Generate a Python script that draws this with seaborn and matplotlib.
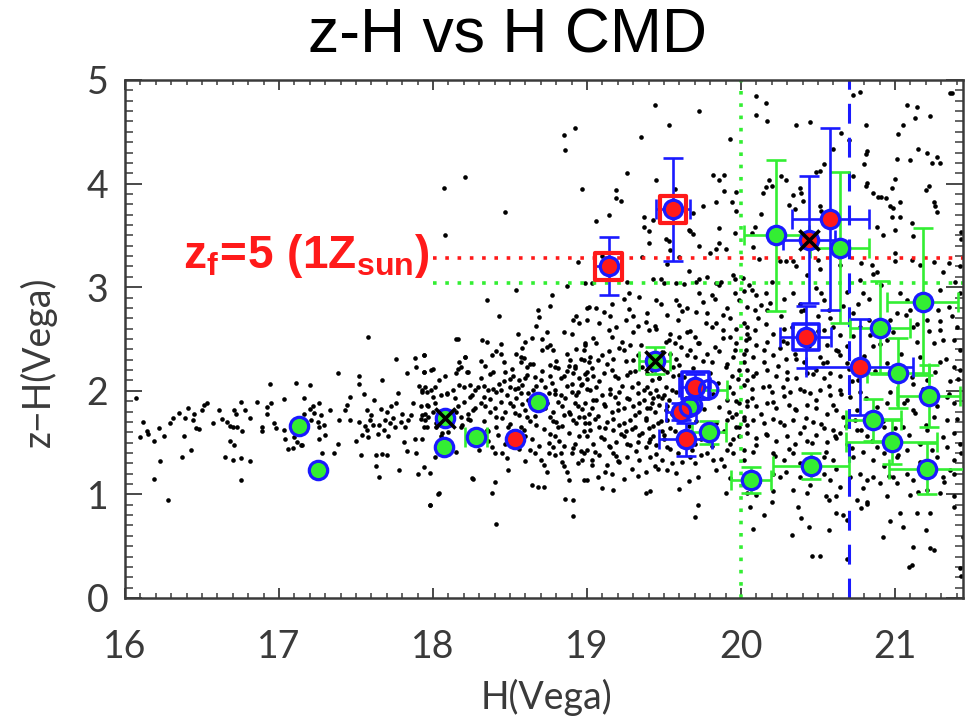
import matplotlib
matplotlib.use("Agg")
import matplotlib.pyplot as plt
from matplotlib.ticker import MultipleLocator
import numpy as np
import pandas as pd
import seaborn as sns

# ---------------- data ----------------
title = "z-H vs H CMD"
x_label = "H(Vega)"
y_label = "z\u2212H(Vega)"
x_ticks = [16, 17, 18, 19, 20, 21]
y_ticks = [0, 1, 2, 3, 4, 5]

# field galaxies (H, z-H) pairs
field_a = [16.07,1.93, 16.12,1.70, 16.14,1.61, 16.10,1.55, 16.15,1.58, 16.19,1.52, 16.19,1.15, 16.22,1.64, 16.23,1.32, 16.25,1.56,
           16.28,0.95, 16.29,1.69, 16.31,1.74, 16.35,1.79, 16.37,1.36, 16.38,1.56, 16.39,1.74, 16.41,1.83, 16.43,1.43, 16.44,1.72,
           16.45,1.78, 16.46,1.64, 16.48,1.63, 16.50,1.81, 16.51,1.86, 16.53,1.88, 16.57,1.69, 16.61,1.81, 16.63,1.73, 16.65,1.36,
           16.66,1.70, 16.68,1.52, 16.68,1.66, 16.70,1.33, 16.70,1.65, 16.71,1.81, 16.71,1.48, 16.72,1.78, 16.73,1.65, 16.75,1.89,
           16.75,1.35, 16.75,1.14, 16.76,1.61, 16.78,1.81, 16.81,1.74, 16.81,1.32, 16.86,1.89, 16.89,1.65, 16.89,1.61, 16.92,1.78,
           16.92,1.84, 16.94,2.07, 16.95,1.88, 16.97,1.69, 16.98,1.64, 17.03,1.92, 17.03,1.62, 17.04,1.53, 17.06,1.44, 17.09,1.45,
           17.10,1.55, 17.11,2.08, 17.12,1.51, 17.14,1.48, 17.15,1.48, 17.16,1.93, 17.16,1.78, 17.20,2.06, 17.20,1.82, 17.21,1.72,
           17.22,1.85, 17.23,1.79, 17.25,1.70, 17.26,1.53, 17.26,1.65, 17.26,1.88, 17.27,1.77, 17.28,1.40, 17.29,1.67, 17.30,1.57,
           17.33,1.81, 17.36,1.40, 17.38,2.17, 17.38,1.49, 17.39,1.72, 17.43,1.81, 17.44,1.86, 17.46,1.72, 17.46,1.94, 17.50,1.52,
           17.52,1.70, 17.52,2.14, 17.52,2.07, 17.53,1.38, 17.54,1.57, 17.55,1.97, 17.56,1.66, 17.57,1.81, 17.57,1.62, 17.58,1.55,
           17.59,1.72, 17.60,1.77, 17.61,1.67, 17.62,1.91, 17.63,1.27, 17.63,1.38, 17.64,1.58, 17.65,1.17, 17.65,1.67, 17.66,1.82,
           17.67,2.10, 17.67,1.39, 17.68,1.62, 17.69,1.72, 17.70,1.38, 17.70,1.80, 17.71,1.56, 17.72,1.69, 17.73,1.85, 17.74,1.74,
           17.75,1.65, 17.76,1.88, 17.77,1.98, 17.78,1.24, 17.79,1.70, 17.80,1.78, 17.81,1.51, 17.82,1.65, 17.83,1.42, 17.83,2.17,
           17.84,1.72, 17.86,1.77, 17.87,1.88, 17.88,1.53, 17.89,2.23, 17.89,1.40, 17.90,1.20, 17.91,2.05, 17.92,1.73, 17.93,1.99,
           17.94,2.18, 17.94,1.26, 17.95,1.78, 17.96,1.65, 17.97,1.85, 17.98,1.21, 17.98,0.90, 17.99,2.20, 18.00,1.94, 18.01,1.36,
           18.02,1.65, 18.03,1.00, 18.04,2.10, 18.06,1.59, 18.09,1.97, 18.10,1.60, 18.12,1.80, 18.14,1.93, 18.15,2.17, 18.16,1.85,
           18.17,2.06, 18.19,1.67, 18.20,1.89, 18.22,2.18, 18.23,1.73, 18.24,1.94, 18.25,1.16, 18.26,1.81, 18.29,2.04,
           17.58,2.52, 18.16,2.50, 17.76,2.31, 17.88,2.32, 17.94,2.35, 18.08,2.14, 18.21,2.33, 18.18,2.23]

field_b = [18.54,2.97, 18.35,2.88, 18.77,2.92, 18.76,2.82, 18.68,2.78, 18.43,2.72, 18.69,2.71, 18.67,2.63, 18.74,2.57, 18.85,2.57,
           18.93,2.72, 18.91,2.68, 18.95,2.65, 19.00,2.80, 18.15,2.50, 18.32,2.49, 18.35,2.47, 18.60,2.47, 18.64,2.51, 18.76,2.44,
           18.71,2.39, 18.78,2.39, 18.93,2.40, 18.99,2.44, 17.94,2.35, 18.21,2.33, 18.17,2.28, 18.31,2.29, 18.38,2.35, 18.41,2.38,
           18.44,2.36, 18.54,2.36, 18.57,2.28, 18.59,2.32, 18.63,2.26, 18.61,2.23, 18.76,2.25, 18.79,2.23, 18.81,2.22, 18.87,2.19,
           18.89,2.30, 18.92,2.24, 18.98,2.30, 19.01,2.28, 17.94,2.18, 18.00,2.21, 18.16,2.21, 18.23,2.18, 18.37,2.16, 18.47,2.18,
           18.52,2.14, 18.56,2.10, 18.50,2.11, 18.60,2.12, 18.66,2.13, 18.70,2.10, 18.76,2.14, 18.85,2.14, 18.91,2.17, 18.95,2.12,
           19.00,2.11, 17.95,2.04, 17.93,2.01, 17.96,1.99, 17.99,2.01, 18.01,2.04, 18.05,1.96, 18.09,1.98, 18.13,2.01, 18.20,2.04,
           18.24,2.06, 18.25,1.96, 18.27,2.01, 18.33,2.05, 18.36,2.01, 18.39,2.02, 18.44,2.01, 18.46,2.09, 18.50,2.04, 18.53,2.02,
           18.58,2.06, 18.57,1.98, 18.62,1.98, 18.65,2.01, 18.73,2.04, 18.75,1.98, 18.79,2.01, 18.83,1.96, 18.87,2.05, 18.90,1.99,
           18.93,1.96, 18.96,2.06, 19.00,2.02, 17.92,1.85, 17.96,1.86, 18.01,1.88, 18.00,1.80, 17.97,1.75, 17.95,1.72, 17.93,1.77,
           18.02,1.69, 18.15,1.80, 18.18,1.75, 18.23,1.78, 18.24,1.72, 18.27,1.83, 18.31,1.88, 18.33,1.94, 18.34,1.85, 18.37,1.80,
           18.41,1.75, 18.44,1.89, 18.47,1.80, 18.50,1.88, 18.52,1.85, 18.54,1.93, 18.56,1.77, 18.60,1.81, 18.61,1.75, 18.67,1.67,
           18.74,1.88, 18.76,1.75, 18.78,1.80, 18.80,1.70, 18.84,1.85, 18.85,1.77, 18.88,1.80, 18.91,1.72, 18.94,1.85, 18.95,1.75,
           18.99,1.69, 19.01,1.78, 17.94,1.65, 17.93,1.53, 18.05,1.56, 18.15,1.41, 18.18,1.65, 18.30,1.43, 18.32,1.56, 18.36,1.61,
           18.38,1.46, 18.40,1.40, 18.41,1.65, 18.45,1.40, 18.48,1.35, 18.49,1.24, 18.49,1.65, 18.52,1.61, 18.57,1.65, 18.60,1.56,
           18.63,1.43, 18.66,1.40, 18.70,1.33, 18.72,1.28, 18.74,1.22, 18.75,1.40, 18.78,1.46, 18.79,1.56, 18.81,1.65, 18.83,1.40,
           18.85,1.27, 18.87,1.22, 18.88,1.14, 18.90,1.40, 18.92,1.49, 18.94,1.30, 18.97,1.33, 18.98,1.14, 19.00,1.43, 18.26,1.15,
           18.40,1.12, 18.38,1.01, 18.04,1.01, 17.98,0.90, 18.64,1.09, 18.68,1.07, 18.72,1.07, 18.86,0.96, 18.91,0.95, 18.91,0.79,
           18.41,0.71]

field_c = [19.16,2.84, 19.24,2.89, 19.27,2.94, 19.34,2.91, 19.45,2.88, 19.58,2.88, 19.60,2.83, 19.65,2.80, 19.71,2.76, 19.73,2.94,
           19.81,2.92, 19.83,2.89, 19.86,3.02, 19.91,2.80, 19.96,2.94, 19.99,2.88, 19.11,2.76, 19.06,2.80, 19.01,2.81, 19.39,2.75,
           19.52,2.73, 19.78,2.75, 19.00,2.68, 19.08,2.65, 19.14,2.59, 19.19,2.62, 19.25,2.68, 19.30,2.72, 19.33,2.63, 19.40,2.59,
           19.45,2.60, 19.54,2.55, 19.60,2.52, 19.65,2.57, 19.70,2.52, 19.73,2.46, 19.81,2.62, 19.84,2.65, 19.88,2.59, 19.93,2.52,
           19.97,2.46, 20.02,2.65, 20.04,2.55, 19.04,2.51, 18.99,2.46, 19.23,2.47, 19.28,2.44, 19.51,2.47, 19.57,2.46, 18.98,2.39,
           19.02,2.33, 19.07,2.30, 19.14,2.38, 19.17,2.31, 19.24,2.39, 19.30,2.30, 19.33,2.35, 19.36,2.23, 19.54,2.36, 19.58,2.31,
           19.60,2.25, 19.67,2.39, 19.70,2.33, 19.78,2.36, 19.81,2.28, 19.86,2.38, 19.91,2.26, 19.95,2.33, 19.99,2.20, 20.03,2.39,
           19.00,2.18, 19.04,2.14, 19.11,2.17, 19.16,2.20, 19.20,2.12, 19.26,2.15, 19.31,2.19, 19.39,2.17, 19.42,2.10, 19.47,2.12,
           19.52,2.18, 19.56,2.14, 19.60,2.15, 19.94,2.14, 20.04,2.10, 18.97,2.07, 19.02,2.01, 19.06,2.04, 19.10,1.96, 19.15,2.02,
           19.18,1.94, 19.21,1.99, 19.26,1.93, 19.29,2.04, 19.33,1.98, 19.37,1.91, 19.39,2.04, 19.41,1.98, 19.43,1.93, 19.45,2.01,
           19.47,1.86, 19.50,1.96, 19.53,1.91, 19.55,2.01, 19.91,1.91, 19.95,1.98, 19.99,1.88, 20.04,1.85, 18.99,1.88, 19.03,1.83,
           19.06,1.91, 19.12,1.85, 19.16,1.80, 19.20,1.88, 19.24,1.83, 19.30,1.85, 19.34,1.80, 19.39,1.83, 19.42,1.88, 19.44,1.80,
           19.49,1.93, 19.51,1.81, 19.92,1.80, 19.97,1.78, 18.98,1.75, 19.01,1.69, 19.05,1.73, 19.08,1.65, 19.13,1.70, 19.17,1.62,
           19.21,1.67, 19.25,1.61, 19.28,1.72, 19.31,1.65, 19.34,1.57, 19.38,1.72, 19.40,1.64, 19.43,1.56, 19.46,1.69, 19.49,1.61,
           19.52,1.72, 19.54,1.64, 19.91,1.72, 19.97,1.65, 20.02,1.72, 19.00,1.56, 19.04,1.49, 19.11,1.53, 19.15,1.46, 19.19,1.51,
           19.24,1.56, 19.28,1.48, 19.33,1.51, 19.38,1.46, 19.41,1.53, 19.45,1.48, 19.50,1.53, 19.52,1.46, 19.70,1.49, 19.74,1.53,
           19.93,1.49, 19.99,1.56, 18.98,1.40, 19.03,1.33, 19.08,1.38, 19.13,1.28, 19.17,1.40, 19.20,1.32, 19.26,1.36, 19.29,1.25,
           19.34,1.33, 19.38,1.22, 19.41,1.36, 19.44,1.27, 19.49,1.33, 19.52,1.24, 19.55,1.30, 19.59,1.40, 19.67,1.36, 19.70,1.30,
           19.72,1.17, 19.78,1.40, 19.82,1.33, 19.89,1.27, 19.95,1.40, 20.02,1.33, 19.00,1.14, 19.07,1.17, 19.16,1.20, 19.24,1.15,
           19.10,1.06, 19.17,1.04, 19.38,1.01, 19.41,1.03, 19.60,1.05, 19.72,0.90, 19.70,0.78, 19.90,1.01]

field_d = [18.07,3.96, 18.21,4.06, 18.08,3.50, 18.47,3.73, 18.85,4.47, 18.92,4.54, 18.86,4.32, 18.97,3.95, 19.06,3.64, 19.14,3.70,
           19.19,3.94, 19.19,3.86, 19.22,3.83, 19.26,4.10, 19.35,4.45, 19.44,4.76, 19.53,4.57, 19.45,4.03, 19.37,3.68, 19.37,3.58,
           19.40,3.54, 19.40,3.43, 19.43,3.65, 19.51,3.47, 19.53,3.45, 19.54,3.36, 19.57,3.95, 19.69,3.72, 19.75,3.78, 19.73,4.70,
           19.66,3.55, 19.67,3.54, 19.69,3.51, 19.73,3.40, 19.80,3.33, 19.84,3.37, 19.90,3.37, 19.86,3.57, 19.86,3.43, 19.82,4.08,
           19.86,4.03, 19.89,4.08, 19.89,3.93, 19.84,3.82, 19.93,4.43, 19.94,3.82, 19.96,3.52, 19.97,3.92, 19.97,3.74, 19.52,3.22,
           19.60,3.29, 19.66,3.16, 18.94,3.24, 19.10,3.30, 19.03,3.04, 19.26,3.05, 19.36,3.29, 19.43,3.08, 19.48,3.08, 19.50,3.04,
           19.58,3.04, 19.63,3.03, 19.71,3.05, 19.73,3.08, 19.78,3.10, 19.84,3.04, 19.87,3.05, 19.95,3.12, 19.96,3.08, 18.99,3.04,
           18.87,3.01]

field_e = [20.10,4.85, 20.16,4.78, 20.10,4.66, 20.17,4.60, 20.36,4.57, 20.45,4.59, 20.73,4.86, 20.77,4.88, 20.81,4.57, 20.65,4.49,
           20.70,4.42, 20.60,4.33, 20.81,4.29, 20.82,4.31, 20.80,4.19, 20.51,4.12, 20.49,4.11, 20.54,4.19, 20.73,4.07, 21.08,4.76,
           21.05,4.57, 21.13,4.63, 21.23,4.65, 21.14,4.74, 21.02,4.48, 21.36,4.87, 21.15,4.33, 21.21,4.30, 21.27,4.26, 21.29,4.20,
           21.01,4.24, 21.10,4.23, 21.24,4.20, 20.82,4.01, 20.81,3.98, 21.00,4.04, 20.98,3.96, 20.86,3.91, 20.89,3.87, 20.91,3.87,
           20.94,3.86, 21.20,3.94, 21.22,3.98, 20.18,4.03, 20.20,3.98, 20.26,4.07, 20.29,4.03, 20.34,3.89, 20.38,3.96, 20.39,3.91,
           20.14,3.91, 20.16,3.97, 20.13,3.71, 20.31,3.79, 20.35,3.75, 20.40,3.83, 20.51,3.78, 20.52,3.74, 20.97,3.78, 20.99,3.76,
           21.03,3.82, 21.03,3.68, 20.98,3.68, 21.25,3.82, 21.26,3.78, 21.27,3.73, 21.11,3.62, 20.88,3.58, 20.92,3.50, 21.00,3.55,
           21.12,3.49, 21.43,3.53, 21.43,3.47, 20.07,3.52, 20.09,3.58, 20.08,3.39, 20.12,3.27, 20.25,3.25, 20.29,3.25, 20.34,3.25,
           20.36,3.20, 20.50,3.26, 20.51,3.18, 20.64,3.21, 20.78,3.23, 20.85,3.21, 20.86,3.13, 20.88,3.15, 21.00,3.33, 21.00,3.25,
           21.11,3.26, 21.16,3.21, 21.25,3.24, 21.35,3.23, 21.42,3.20, 21.31,3.15, 20.01,3.09, 20.05,3.02, 20.02,2.96, 20.07,2.97,
           20.10,2.92, 20.16,2.94, 20.13,2.83, 20.17,2.78, 20.09,2.78, 20.04,2.81, 20.28,2.89, 20.34,2.94, 20.38,2.84, 20.41,2.78,
           20.26,2.72, 20.49,2.99, 20.52,2.94, 20.54,2.88, 20.57,2.78, 20.50,2.72, 20.77,3.07, 20.79,2.94, 20.83,2.89, 20.76,2.84,
           20.73,2.75, 21.03,2.94, 21.08,2.88, 21.01,2.75, 21.10,2.78, 21.29,2.97, 21.28,2.78, 21.35,2.81, 21.37,2.72, 21.42,2.94,
           20.97,2.68, 21.14,2.64, 21.21,2.68, 20.86,2.64, 21.37,4.87]

field_f = [20.04,2.62, 20.09,2.59, 20.16,2.64, 20.21,2.55, 20.28,2.60, 20.54,2.59, 20.60,2.62, 20.64,2.54, 20.77,2.62, 20.84,2.54,
           21.12,2.62, 21.29,2.59, 21.40,2.62, 20.03,2.49, 20.10,2.44, 20.17,2.47, 20.25,2.41, 20.30,2.46, 20.56,2.44, 20.62,2.39,
           20.69,2.43, 20.86,2.43, 20.95,2.49, 21.25,2.46, 21.31,2.49, 21.42,2.39, 20.02,2.36, 20.08,2.33, 20.15,2.28, 20.21,2.35,
           20.29,2.31, 20.35,2.36, 20.41,2.28, 20.51,2.33, 20.56,2.28, 20.64,2.35, 20.69,2.27, 21.16,2.33, 21.29,2.28, 21.38,2.23,
           20.04,2.20, 20.10,2.17, 20.17,2.20, 20.23,2.14, 20.30,2.18, 20.36,2.12, 20.43,2.17, 20.49,2.20, 20.54,2.12, 20.58,2.17,
           20.64,2.14, 20.72,2.09, 21.12,2.07, 21.21,2.10, 21.36,2.09, 21.42,2.20, 20.02,2.06, 20.07,2.02, 20.14,2.04, 20.20,1.99,
           20.27,2.04, 20.32,1.99, 20.38,2.02, 20.45,1.98, 20.51,2.01, 20.58,1.96, 20.64,2.01, 20.71,1.94, 20.77,1.99, 20.95,1.88,
           21.08,1.91, 21.34,1.94, 21.38,1.88, 20.04,1.90, 20.10,1.85, 20.17,1.88, 20.23,1.83, 20.31,1.86, 20.36,1.81, 20.43,1.86,
           20.49,1.83, 20.56,1.78, 20.62,1.81, 20.66,1.75, 20.74,1.72, 21.12,1.81, 21.25,1.75, 21.34,1.72, 20.02,1.75, 20.08,1.72,
           20.15,1.69, 20.21,1.73, 20.28,1.67, 20.34,1.72, 20.41,1.65, 20.47,1.70, 20.54,1.64, 20.60,1.62, 20.64,1.59, 20.75,1.62,
           20.82,1.56, 20.93,1.65, 21.05,1.65, 21.21,1.62, 21.38,1.59, 20.04,1.59, 20.10,1.54, 20.17,1.57, 20.23,1.52, 20.30,1.56,
           20.35,1.49, 20.43,1.52, 20.49,1.57, 20.56,1.51, 20.62,1.54, 20.69,1.49, 20.88,1.46, 21.08,1.43, 21.16,1.49, 21.34,1.46,
           21.42,1.49, 20.02,1.43, 20.08,1.41, 20.21,1.40, 20.28,1.33, 20.34,1.40, 20.38,1.30, 20.54,1.36, 20.60,1.33, 20.73,1.36,
           20.79,1.41, 20.86,1.33, 20.93,1.40, 21.01,1.36, 21.27,1.36, 21.38,1.33, 20.21,1.20, 20.25,1.17, 20.38,1.17, 20.54,1.20,
           20.58,1.14, 20.64,1.07, 20.71,1.17, 20.77,1.20, 20.82,1.14, 20.86,1.17, 20.90,1.11, 20.99,1.17, 21.01,1.11, 21.08,1.20,
           21.12,1.14, 21.31,1.17, 21.38,1.20, 20.04,1.01, 20.10,0.99, 20.21,1.03, 20.34,1.04, 20.43,1.01, 20.55,0.98, 20.57,0.95,
           20.62,0.98, 20.75,0.95, 20.82,0.93, 20.95,0.98, 21.10,0.99, 21.21,1.04, 21.29,1.01, 21.38,0.98, 20.06,0.88, 20.15,0.80,
           20.20,0.93, 20.37,0.88, 20.62,0.82, 20.66,0.80, 20.78,0.87, 20.82,0.91, 20.97,0.74, 21.03,0.82, 21.14,0.82, 21.23,0.82,
           21.38,0.88, 20.08,0.67, 20.33,0.61, 20.39,0.77, 20.44,0.69, 20.57,0.66, 20.69,0.75, 20.92,0.59, 21.05,0.69, 21.20,0.66,
           21.44,0.59, 21.12,0.49, 21.23,0.48, 21.25,0.46, 20.46,0.41, 20.51,0.41, 20.69,0.38, 21.09,0.30, 21.11,0.32, 21.42,0.29,
           21.43,0.21]

# extra estimated dots in the crowded parts of the diagram
field_g = [18.31,2.12, 18.33,1.71, 18.34,2.24, 18.36,1.52, 18.37,1.92, 18.39,2.18, 18.40,1.83, 18.42,1.57, 18.43,2.07, 18.45,1.74,
           18.46,2.28, 18.47,1.49, 18.48,1.96, 18.50,1.68, 18.51,2.21, 18.53,1.79, 18.55,2.03, 18.56,1.44, 18.57,2.33, 18.58,1.87,
           18.59,1.62, 18.61,2.15, 18.62,1.91, 18.64,1.53, 18.65,2.26, 18.66,1.76, 18.67,2.05, 18.69,1.47, 18.70,1.95, 18.71,2.19,
           18.72,1.63, 18.73,1.83, 18.74,2.42, 18.76,1.58, 18.77,2.08, 18.78,1.71, 18.79,1.38, 18.80,2.29, 18.81,1.89, 18.82,1.52,
           18.83,2.12, 18.84,1.66, 18.86,1.93, 18.87,2.36, 18.88,1.59, 18.89,1.78, 18.90,2.07, 18.91,1.45, 18.92,2.22, 18.93,1.69,
           18.94,1.99, 18.95,1.56, 18.96,2.31, 18.97,1.82, 18.98,1.61, 18.99,2.16, 18.35,1.62, 18.41,1.99, 18.52,1.55, 18.58,2.41,
           18.63,1.71, 18.68,1.86, 18.75,1.50, 18.79,1.97, 18.85,1.47, 18.88,2.24, 18.92,1.88, 18.96,1.42, 18.44,2.45, 18.60,1.32,
           18.84,1.31, 18.71,2.50, 18.55,2.55, 18.90,2.55]

field_h = [19.02,1.62, 19.03,2.22, 19.04,1.91, 19.05,1.41, 19.06,2.46, 19.07,1.76, 19.08,2.09, 19.09,1.55, 19.10,2.35, 19.11,1.87,
           19.12,1.64, 19.13,2.26, 19.14,1.47, 19.15,1.97, 19.16,2.52, 19.17,1.73, 19.18,2.14, 19.19,1.37, 19.20,1.81, 19.21,2.41,
           19.22,1.58, 19.23,2.05, 19.24,1.69, 19.25,2.29, 19.26,1.49, 19.27,1.92, 19.28,2.18, 19.29,1.63, 19.30,2.57, 19.31,1.77,
           19.32,1.42, 19.33,2.08, 19.34,1.88, 19.35,2.44, 19.36,1.59, 19.37,2.01, 19.38,1.74, 19.39,2.31, 19.40,1.51, 19.41,1.83,
           19.42,2.20, 19.43,1.66, 19.44,2.63, 19.45,1.39, 19.46,1.95, 19.47,2.12, 19.48,1.71, 19.49,2.37, 19.50,1.57, 19.51,2.04,
           19.52,1.85, 19.53,2.49, 19.54,1.44, 19.55,1.78, 19.56,2.23, 19.57,1.61, 19.58,1.99, 19.59,2.68, 19.60,1.72, 19.61,2.42,
           19.62,1.31, 19.63,2.13, 19.64,1.93, 19.65,2.35, 19.66,1.66, 19.67,2.58, 19.68,1.43, 19.69,2.22, 19.71,1.71, 19.72,2.46,
           19.73,1.93, 19.74,1.38, 19.75,2.29, 19.76,1.82, 19.77,2.65, 19.78,1.55, 19.80,2.17, 19.81,1.47, 19.82,1.97, 19.83,2.42,
           19.84,1.69, 19.85,2.08, 19.86,1.84, 19.87,1.34, 19.88,2.51, 19.89,1.61, 19.90,2.23, 19.91,1.43, 19.92,2.04, 19.93,2.70,
           19.94,1.75, 19.95,1.53, 19.96,2.39, 19.97,1.90, 19.98,2.11, 19.99,1.65, 19.03,1.28, 19.12,1.22, 19.21,1.31, 19.33,1.18,
           19.46,1.25, 19.58,1.21, 19.66,1.13, 19.84,1.24, 19.93,1.16, 19.15,2.72, 19.27,2.79, 19.38,2.66, 19.48,2.84, 19.62,2.77,
           19.75,2.86, 19.88,2.73, 19.97,2.60]

field_i = [20.02,2.28, 20.04,1.67, 20.05,2.51, 20.07,1.93, 20.08,2.14, 20.10,1.48, 20.11,2.70, 20.13,1.78, 20.15,2.39, 20.16,1.58,
           20.18,2.05, 20.19,2.85, 20.21,1.89, 20.22,1.37, 20.24,2.24, 20.25,1.70, 20.27,2.48, 20.28,1.95, 20.30,2.11, 20.31,1.44,
           20.33,2.62, 20.35,1.82, 20.36,2.31, 20.38,1.59, 20.39,2.77, 20.41,2.00, 20.42,1.74, 20.44,2.43, 20.46,1.50, 20.47,2.16,
           20.49,1.91, 20.50,2.58, 20.52,1.68, 20.53,2.27, 20.55,1.41, 20.57,2.05, 20.58,2.70, 20.60,1.86, 20.61,1.56, 20.63,2.38,
           20.65,1.97, 20.66,2.82, 20.68,1.66, 20.70,2.21, 20.72,1.45, 20.73,2.53, 20.75,1.81, 20.76,2.10, 20.78,1.62, 20.80,2.34,
           20.81,1.93, 20.83,2.68, 20.85,1.52, 20.87,2.19, 20.88,1.84, 20.90,2.45, 20.92,1.71, 20.93,1.27, 20.95,2.27, 20.97,1.99,
           20.99,2.57, 21.00,1.64, 21.02,1.38, 21.04,2.36, 21.06,1.88, 21.07,2.73, 21.09,1.57, 21.11,2.13, 21.13,1.79, 21.14,2.47,
           21.16,1.31, 21.18,2.02, 21.20,1.67, 21.22,2.58, 21.24,1.43, 21.26,2.18, 21.27,1.85, 21.29,2.67, 21.31,1.55, 21.33,2.31,
           21.35,1.97, 21.36,1.24, 21.38,2.49, 21.40,1.73, 21.41,2.11, 21.43,1.40, 20.12,1.12, 20.29,1.22, 20.45,1.09, 20.62,1.25,
           20.79,1.06, 20.96,1.18, 21.15,1.02, 21.32,1.12, 20.20,3.05, 20.43,3.12, 20.69,2.95, 20.91,3.02, 21.19,2.92, 21.39,3.05]

# target galaxies
green_H   = [17.13, 17.25, 18.08, 18.07, 18.68, 19.68, 18.28, 19.44, 19.795, 20.065, 20.23, 20.64, 20.455, 20.90, 21.18, 21.02, 21.22, 20.86, 20.98, 21.21]
green_zH  = [1.66, 1.24, 1.74, 1.46, 1.89, 1.86, 1.55, 2.29, 1.60, 1.14, 3.50, 3.38, 1.27, 2.61, 2.86, 2.17, 1.95, 1.72, 1.51, 1.25]
green_eH  = [0, 0, 0, 0, 0, 0, 0.07, 0.10, 0.11, 0.13, 0.21, 0.19, 0.245, 0.195, 0.23, 0.20, 0.205, 0.18, 0.295, 0.25]
green_ezH = [0, 0, 0, 0, 0, 0, 0.0, 0.13, 0.11, 0.125, 0.73, 0.73, 0.125, 0.45, 0.71, 0.34, 0.30, 0.20, 0.22, 0.25]

red_H   = [18.53, 19.14, 19.56, 19.70, 19.61, 19.64, 20.44, 20.58, 20.42, 20.77]
red_zH  = [1.53, 3.20, 3.75, 2.04, 1.80, 1.53, 3.46, 3.66, 2.52, 2.23]
red_eH  = [0, 0.09, 0.11, 0.10, 0.10, 0.17, 0.17, 0.25, 0.165, 0.35]
red_ezH = [0, 0.28, 0.50, 0.12, 0.08, 0.16, 0.61, 0.88, 0.30, 0.46]

open_H  = [19.79, 19.665]
open_zH = [2.01, 1.84]
open_eH = [0.12, 0.0]

red_box_H  = [19.14, 19.56]
red_box_zH = [3.20, 3.75]
blue_box_H  = [19.705, 20.42]
blue_box_zH = [2.05, 2.52]
cross_H  = [18.08, 19.44, 20.44]
cross_zH = [1.74, 2.29, 3.46]

zf5_solar_zH = 3.28
zf5_green_zH = 3.04
line_start_H = 18.0
H_green_limit = 20.0
H_blue_limit = 20.7
model_label = r"$\mathbf{z_f\!=\!5\ (1Z_{sun})}$"

# ---------------- style ----------------
sns.set_theme(style="ticks")
plt.rcParams["font.family"] = ["Lato", "DejaVu Sans"]
plt.rcParams["mathtext.fontset"] = "custom"
plt.rcParams["mathtext.bf"] = "Liberation Sans:bold"
plt.rcParams["mathtext.rm"] = "Liberation Sans:bold"
plt.rcParams["mathtext.it"] = "Liberation Sans:bold"

GREEN = "#33ee33"
BLUE = "#1a1aff"
RED = "#ff1a1a"
AXC = "#3a3a3a"

fig = plt.figure(figsize=(9.65, 7.21), dpi=100)
W, Hpx = 965, 721
ax = fig.add_axes([125 / W, 1 - 598 / Hpx, (963 - 125) / W, (598 - 80) / Hpx])

def pairs(lst):
    a = np.array(lst).reshape(-1, 2)
    return a[:, 0], a[:, 1]

fh, fz = [], []
for blk in (field_a, field_b, field_c, field_d, field_e, field_f, field_g, field_h, field_i):
    h, z = pairs(blk)
    fh.append(h); fz.append(z)
field = pd.DataFrame({"H": np.concatenate(fh), "zH": np.concatenate(fz)})

sns.scatterplot(data=field, x="H", y="zH", s=11, color="black", linewidth=0, ax=ax, zorder=1, legend=False)

# reference lines
ax.plot([line_start_H, 21.6], [zf5_solar_zH] * 2, color=RED, lw=2.6, ls=(0, (1.0, 2.4)), zorder=2)
ax.plot([line_start_H, 21.6], [zf5_green_zH] * 2, color=GREEN, lw=2.6, ls=(0, (1.0, 2.4)), zorder=2)
ax.axvline(H_green_limit, color=GREEN, lw=2.6, ls=(0, (1.0, 2.4)), zorder=2)
ax.axvline(H_blue_limit, color=BLUE, lw=2.2, ls=(0, (6.5, 4.6)), zorder=2)

# error bars
for H_, z_, eh, ez, col in (
    [(a, b, c, d, GREEN) for a, b, c, d in zip(green_H, green_zH, green_eH, green_ezH)]
    + [(a, b, c, d, BLUE) for a, b, c, d in zip(red_H, red_zH, red_eH, red_ezH)]
    + [(a, b, c, 0.0, GREEN) for a, b, c in zip(open_H, open_zH, open_eH)]
):
    if eh > 0:
        ax.errorbar([H_], [z_], xerr=[eh], fmt="none", ecolor=col, elinewidth=1.9, capsize=7, capthick=1.9, zorder=3)
    if ez > 0:
        ax.errorbar([H_], [z_], yerr=[ez], fmt="none", ecolor=col, elinewidth=1.9, capsize=7, capthick=1.9, zorder=3)

green_df = pd.DataFrame({"H": green_H, "zH": green_zH})
red_df = pd.DataFrame({"H": red_H, "zH": red_zH})
open_df = pd.DataFrame({"H": open_H, "zH": open_zH})
sns.scatterplot(data=green_df, x="H", y="zH", s=175, color=GREEN, edgecolor=BLUE, linewidth=2.3, ax=ax, zorder=4, legend=False)
sns.scatterplot(data=red_df, x="H", y="zH", s=175, color=RED, edgecolor=BLUE, linewidth=2.3, ax=ax, zorder=4, legend=False)
sns.scatterplot(data=open_df, x="H", y="zH", s=175, facecolor="none", edgecolor=BLUE, linewidth=2.3, ax=ax, zorder=4, legend=False)
sns.scatterplot(x=red_box_H, y=red_box_zH, marker="s", s=360, facecolor="none", edgecolor=RED, linewidth=3.0, ax=ax, zorder=5, legend=False)
sns.scatterplot(x=blue_box_H, y=blue_box_zH, marker="s", s=360, facecolor="none", edgecolor=BLUE, linewidth=2.6, ax=ax, zorder=5, legend=False)
sns.scatterplot(x=cross_H, y=cross_zH, marker="x", s=210, color="black", linewidth=2.6, ax=ax, zorder=6, legend=False)

# axes
ax.set_xlim(16, 16 + (963 - 125) / 154)
ax.set_ylim(0, 5)
ax.set_xticks(x_ticks)
ax.set_yticks(y_ticks)
ax.xaxis.set_minor_locator(MultipleLocator(0.1))
ax.yaxis.set_minor_locator(MultipleLocator(0.1))
ax.tick_params(axis="x", which="major", direction="in", length=7, width=1.3, top=True, bottom=True, pad=22,
               labelsize=27, colors=AXC)
ax.tick_params(axis="x", which="minor", direction="in", length=3.6, width=1.1, top=True, bottom=True, colors=AXC)
ax.tick_params(axis="y", which="major", direction="in", length=12, width=1.3, left=True, right=True, pad=12,
               labelsize=27, colors=AXC)
ax.tick_params(axis="y", which="minor", direction="in", length=6, width=1.1, left=True, right=True, colors=AXC)
for sp in ax.spines.values():
    sp.set_color(AXC)
    sp.set_linewidth(1.8)
    sp.set_visible(True)
ax.set_xlabel("")
ax.set_ylabel("")

fig.text(546 / W, 1 - 697 / Hpx, x_label, ha="center", va="center", fontsize=27, color=AXC)
fig.text(38 / W, 1 - 362 / Hpx, y_label, ha="center", va="center", rotation=90, fontsize=27, color=AXC)
fig.text(508 / W, 1 - 36 / Hpx, title, ha="center", va="center", fontsize=45, color="black", family="Liberation Sans")
fig.text(430 / W, 1 - 268 / Hpx, model_label, ha="right", va="baseline", fontsize=33, color=RED)

fig.savefig("out.png", dpi=100)
